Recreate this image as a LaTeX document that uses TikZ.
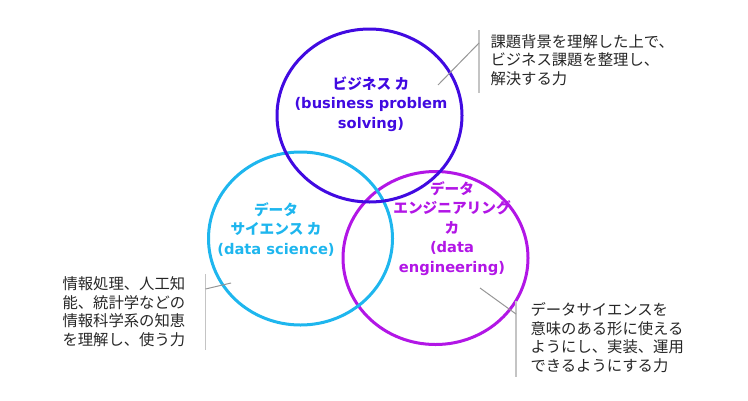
\documentclass[tikz,border=0pt]{standalone}
\usepackage{fontspec}
\setmainfont{DejaVu Sans}
\newfontfamily\jp{Noto Sans CJK JP}
\definecolor{bizblue}{RGB}{65,10,225}
\definecolor{scicyan}{RGB}{30,182,238}
\definecolor{engpurple}{RGB}{178,22,230}
\definecolor{notegray}{RGB}{196,196,196}
\definecolor{leadgray}{RGB}{150,150,150}

\tikzset{every picture/.style={line width=0.75pt}}
\tikzset{
  ring/.style={line width=2.25pt},
  circlabel/.style={align=center, inner sep=0.75pt, font=\bfseries\fontsize{11}{14.6}\selectfont},
  notetext/.style={anchor=west, align=left, inner sep=0.75pt, text=black!85, font=\jp\fontsize{11.5}{13.9}\selectfont},
  bracketline/.style={draw=notegray, line width=1.2pt},
  leadline/.style={draw=leadgray, line width=0.75pt}
}

\begin{document}
\begin{tikzpicture}[x=0.75pt,y=0.75pt,yscale=-1,xscale=1]
    \useasboundingbox (0,0) rectangle (748,400);
    %Shape: Ellipse [data engineering]
    \draw [engpurple, ring] (435.5,258) ellipse [x radius=92.5, y radius=86.5];
    %Shape: Ellipse [data science]
    \draw [scicyan, ring] (300.5,238.5) ellipse [x radius=92, y radius=86.5];
    %Shape: Ellipse [business]
    \draw [bizblue, ring] (369.5,115.5) ellipse [x radius=92.5, y radius=86.5];
    % Text Node
    \node [circlabel, text=bizblue] (bizLabel) at (371,104) {{\jp ビジネス カ}\\(business problem\\solving)};
    % Text Node
    \node [circlabel, text=scicyan] (sciLabel) at (276,229.5) {{\jp データ}\\{\jp サイエンス カ}\\(data science)};
    % Text Node
    \node [circlabel, text=engpurple] (engLabel) at (452,228.5) {{\jp データ}\\{\jp エンジニアリング}\\{\jp カ}\\(data\\engineering)};
    % Text Node
    \node [notetext] (bizNote) at (489,60) {課題背景を理解した上で、\\ビジネス課題を整理し、\\解決する力};
    % Text Node
    \node [notetext] (sciNote) at (61,311.5) {情報処理、人工知\\能、統計学などの\\情報科学系の知恵\\を理解し、使う力};
    % Text Node
    \node [notetext] (engNote) at (529,337.5) {データサイエンスを\\意味のある形に使える\\ようにし、実装、運用\\できるようにする力};
    %Callout ends
    \coordinate (bizTop) at (479,30);
    \coordinate (bizBot) at (479,93);
    \coordinate (bizKnee) at (479,43);
    \coordinate (bizTip) at (438,85);
    \coordinate (sciTop) at (205.5,274);
    \coordinate (sciBot) at (205.5,350);
    \coordinate (sciKnee) at (205.5,289);
    \coordinate (sciTip) at (231,283);
    \coordinate (engTop) at (516,301);
    \coordinate (engBot) at (516,377);
    \coordinate (engKnee) at (516,314);
    \coordinate (engTip) at (480,288);
    %Straight Lines
    \draw [bracketline] (bizTop) -- (bizBot);
    \draw [leadline] (bizKnee) -- (bizTip);
    %Straight Lines
    \draw [bracketline] (sciTop) -- (sciBot);
    \draw [leadline] (sciKnee) -- (sciTip);
    %Straight Lines
    \draw [bracketline] (engTop) -- (engBot);
    \draw [leadline] (engKnee) -- (engTip);
\end{tikzpicture}
\end{document}
